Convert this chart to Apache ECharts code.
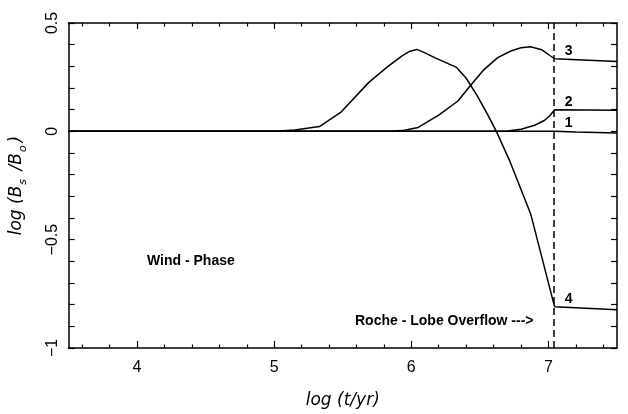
<!DOCTYPE html>
<html>
<head>
<meta charset="utf-8">
<script src="https://cdn.jsdelivr.net/npm/echarts@6/dist/echarts.min.js"></script>
<style>
  html, body { margin: 0; padding: 0; background: #fff; }
  #chart { width: 628px; height: 414px; }
</style>
</head>
<body>
<div id="chart"></div>
<script>
// curves, [log t, log(Bs/B0)]
const curve1 = [[3.5, 0], [7.045, 0], [7.2, -0.003], [7.5, -0.008]]
const curve2 = [[3.5, 0], [6.6, 0], [6.7, 0.002], [6.8, 0.01], [6.9, 0.028], [6.97, 0.05],
  [7.01, 0.072], [7.045, 0.1], [7.5, 0.097]]
const curve3 = [[3.5, 0], [5.85, 0], [5.95, 0.005], [6.05, 0.018], [6.2, 0.075], [6.34, 0.14],
  [6.43, 0.21], [6.53, 0.285], [6.63, 0.34], [6.73, 0.372], [6.8, 0.386], [6.87, 0.39],
  [6.95, 0.377], [7.01, 0.35], [7.045, 0.335], [7.5, 0.322]]
const curve4 = [[3.5, 0], [5.0, 0], [5.15, 0.006], [5.33, 0.022], [5.49, 0.09], [5.69, 0.226],
  [5.83, 0.3], [5.93, 0.347], [5.99, 0.37], [6.04, 0.378], [6.1, 0.362], [6.17, 0.34],
  [6.33, 0.295], [6.4, 0.245], [6.48, 0.165], [6.55, 0.085], [6.62, 0], [6.72, -0.14],
  [6.87, -0.38], [7.045, -0.81], [7.5, -0.823]]
const curveNames = ['1', '2', '3', '4']
const rocheLobeT = 7.045

const xMajor = [4, 5, 6, 7]
const xMinor = [3.6, 3.8, 4.2, 4.4, 4.6, 4.8, 5.2, 5.4, 5.6, 5.8, 6.2, 6.4, 6.6, 6.8, 7.2, 7.4]

const font = 'Liberation Sans, Arial, sans-serif'
const black = '#000'

function lineSeries(data, idx) {
  // label the curve just right of the dashed line
  const atLine = data.find(p => p[0] === rocheLobeT)
  const s = {
    type: 'line',
    data: data,
    showSymbol: false,
    lineStyle: {color: black, width: 1.5},
    itemStyle: {color: black},
    markPoint: {
      symbol: 'circle',
      symbolSize: 0,
      silent: true,
      data: [{coord: atLine}],
      label: {
        show: true,
        formatter: curveNames[idx],
        offset: [14, -8],
        fontFamily: font,
        fontWeight: 'bold',
        fontSize: 14,
        color: black,
      },
    },
  }
  if (idx === 0) {
    s.markLine = {
      silent: true,
      symbol: 'none',
      label: {show: false},
      lineStyle: {color: black, type: [7, 4], width: 1.5},
      data: [{xAxis: rocheLobeT}],
    }
  }
  return s
}

function tickAxis(position, ticks, len, withLine) {
  return {
    type: 'value',
    min: 3.5,
    max: 7.5,
    position: position,
    axisLine: {show: withLine, onZero: false, lineStyle: {color: black, width: 1.5}},
    axisTick: {show: true, inside: true, length: len, customValues: ticks, lineStyle: {color: black, width: 1.2}},
    axisLabel: {show: false},
    splitLine: {show: false},
  }
}

const chart = echarts.init(document.getElementById('chart'), null, {renderer: 'canvas'})

const mainX = tickAxis('bottom', xMajor, 7, true)
mainX.axisLabel = {
  show: true,
  customValues: xMajor,
  margin: 12,
  fontFamily: font,
  fontSize: 16,
  color: black,
}
mainX.name = 'log (t/yr)'
mainX.nameLocation = 'middle'
mainX.nameGap = 44
mainX.nameTextStyle = {fontFamily: 'DejaVu Sans', fontStyle: 'italic', fontSize: 17, color: black}

function yAxis(position, withLabels) {
  return {
    type: 'value',
    min: -1,
    max: 0.5,
    interval: 0.5,
    position: position,
    axisLine: {show: true, onZero: false, lineStyle: {color: black, width: 1.5}},
    axisTick: {show: true, inside: true, length: 6, lineStyle: {color: black, width: 1.2}},
    minorTick: {show: true, splitNumber: 5, length: 6, lineStyle: {color: black, width: 1.2}},
    axisLabel: {
      show: withLabels,
      rotate: 90,
      margin: 8,
      fontFamily: font,
      fontSize: 16,
      color: black,
      formatter: v => (v < 0 ? '\u2212' + Math.abs(v) : String(v)),
    },
    splitLine: {show: false},
  }
}

const mainY = yAxis('left', true)
mainY.name = '{t|log (B}{s|s}{t| /B}{s|o}{t|)}'
mainY.nameLocation = 'middle'
mainY.nameGap = 40
mainY.nameRotate = 90
mainY.nameTextStyle = {
  rich: {
    t: {fontFamily: 'DejaVu Sans', fontStyle: 'italic', fontSize: 17, color: black, lineHeight: 24},
    s: {fontFamily: 'DejaVu Sans', fontStyle: 'italic', fontSize: 11, color: black, verticalAlign: 'bottom', lineHeight: 24, padding: [0, 3, 0, 1]},
  },
}

chart.setOption({
  animation: false,
  backgroundColor: '#fff',
  grid: {left: 65, right: 11, top: 23, bottom: 62, containLabel: false},
  xAxis: [
    mainX,
    tickAxis('bottom', xMinor, 3.5, false),
    tickAxis('top', xMajor, 6, true),
    tickAxis('top', xMinor, 3.5, false),
  ],
  yAxis: [mainY, yAxis('right', false)],
  series: [curve1, curve2, curve3, curve4].map(lineSeries),
  graphic: [
    {
      type: 'text',
      left: 147,
      top: 254,
      style: {text: 'Wind - Phase', font: 'bold 14px ' + font, fill: black},
    },
    {
      type: 'text',
      left: 355,
      top: 314,
      style: {text: 'Roche - Lobe Overflow --->', font: 'bold 14px ' + font, fill: black},
    },
  ],
})
</script>
</body>
</html>
